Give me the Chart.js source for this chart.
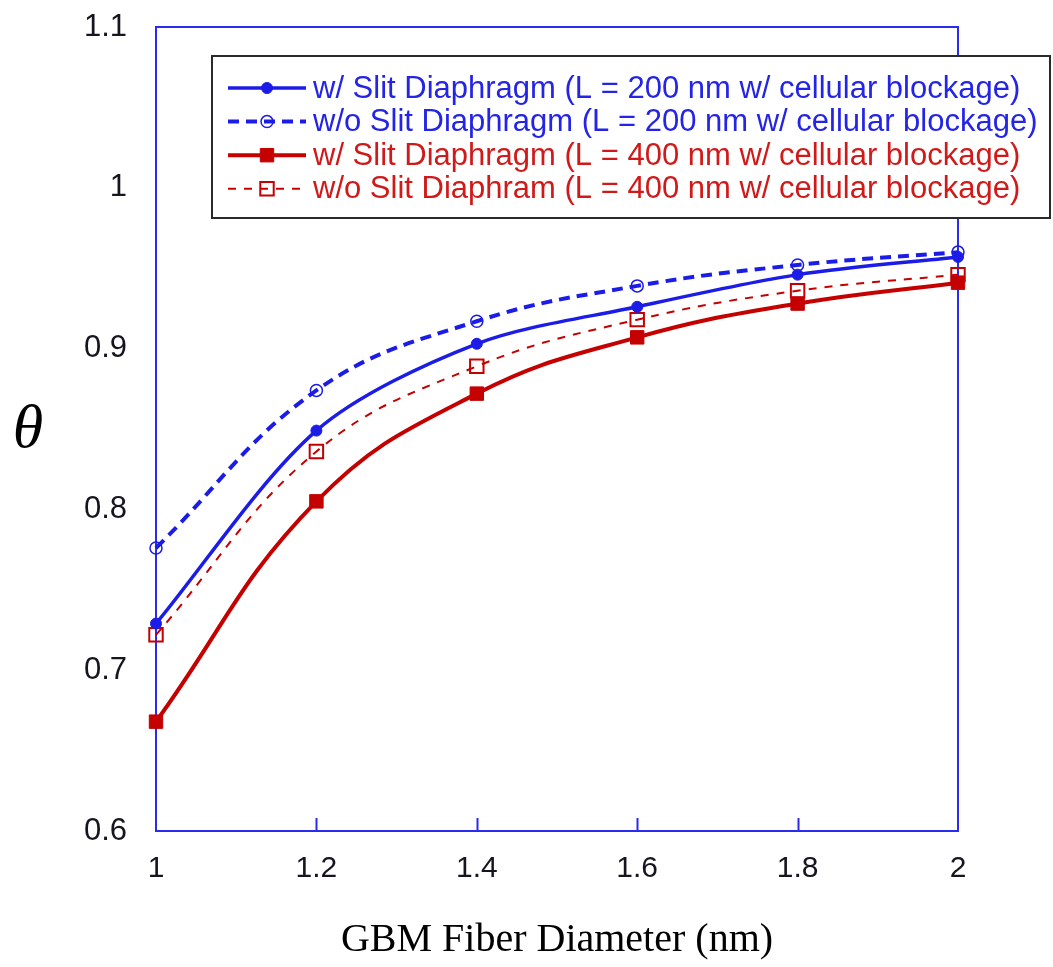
<!DOCTYPE html>
<html>
<head>
<meta charset="utf-8">
<title>GBM fiber diameter vs theta</title>
<script src="https://cdn.jsdelivr.net/npm/chart.js@4.4.1/dist/chart.umd.min.js"></script>
<style>
  html, body { margin: 0; padding: 0; background: #ffffff; }
  #wrap { width: 1053px; height: 967px; }
</style>
</head>
<body>
<div id="wrap"><canvas id="chart" width="1053" height="967"></canvas></div>
<script>
// ---- data ----
const fiberDiameter = [1, 1.2, 1.4, 1.6, 1.8, 2];
const slit200   = [0.729, 0.849, 0.903, 0.926, 0.946, 0.957];
const noSlit200 = [0.776, 0.874, 0.917, 0.939, 0.952, 0.960];
const slit400   = [0.668, 0.805, 0.872, 0.907, 0.928, 0.941];
const noSlit400 = [0.722, 0.836, 0.889, 0.918, 0.936, 0.946];

const seriesLabels = [
  'w/ Slit Diaphragm (L = 200 nm w/ cellular blockage)',
  'w/o Slit Diaphragm (L = 200 nm w/ cellular blockage)',
  'w/ Slit Diaphragm (L = 400 nm w/ cellular blockage)',
  'w/o Slit Diaphram (L = 400 nm w/ cellular blockage)'
];
const xTickLabels = ['1', '1.2', '1.4', '1.6', '1.8', '2'];
const yTickLabels = ['0.6', '0.7', '0.8', '0.9', '1', '1.1'];
const xTitle = 'GBM Fiber Diameter (nm)';
const yTitle = '\u03B8';

// ---- styling ----
const BLUE = '#1c1ce8';
const RED = '#c40000';
const BLUE_TEXT = '#2424e6';
const RED_TEXT = '#d01a1a';
const FRAME = '#2a2af0';
const TICK_FONT = '"Liberation Sans", Arial, sans-serif';

const toPoints = ys => fiberDiameter.map((x, i) => ({ x, y: ys[i] }));

const datasets = [
  {
    label: seriesLabels[0], data: toPoints(slit200), textColor: BLUE_TEXT, tension: 0.3,
    borderColor: BLUE, backgroundColor: BLUE, borderWidth: 3.5, borderDash: [],
    pointStyle: 'circle', pointRadius: 5.5, pointBorderWidth: 1, pointBackgroundColor: BLUE, pointBorderColor: BLUE
  },
  {
    label: seriesLabels[1], data: toPoints(noSlit200), textColor: BLUE_TEXT, tension: 0.4,
    borderColor: BLUE, backgroundColor: 'rgba(0,0,0,0)', borderWidth: 4, borderDash: [11, 7],
    pointStyle: 'circle', pointRadius: 6, pointBorderWidth: 1.5, pointBackgroundColor: 'rgba(0,0,0,0)', pointBorderColor: BLUE
  },
  {
    label: seriesLabels[2], data: toPoints(slit400), textColor: RED_TEXT, tension: 0.42,
    borderColor: RED, backgroundColor: RED, borderWidth: 4, borderDash: [],
    pointStyle: 'rect', pointRadius: 9.5, pointBorderWidth: 1, pointBackgroundColor: RED, pointBorderColor: RED
  },
  {
    label: seriesLabels[3], data: toPoints(noSlit400), textColor: RED_TEXT, tension: 0.4,
    borderColor: RED, backgroundColor: 'rgba(0,0,0,0)', borderWidth: 2, borderDash: [8, 8],
    pointStyle: 'rect', pointRadius: 9.5, pointBorderWidth: 2, pointBackgroundColor: 'rgba(0,0,0,0)', pointBorderColor: RED
  }
].map(d => Object.assign(d, { clip: false, fill: false }));

// Plot frame with inward tick marks along the bottom edge
const framePlugin = {
  id: 'frame',
  beforeDatasetsDraw(chart) {
    const { ctx, chartArea: a, scales: { x } } = chart;
    ctx.save();
    ctx.strokeStyle = FRAME;
    ctx.lineWidth = 2;
    ctx.strokeRect(a.left, a.top, a.right - a.left, a.bottom - a.top);
    ctx.beginPath();
    x.ticks.forEach(t => {
      if (t.value > x.min && t.value < x.max) {
        const px = Math.round(x.getPixelForValue(t.value)) + 0.5;
        ctx.moveTo(px, a.bottom);
        ctx.lineTo(px, a.bottom - 13);
      }
    });
    ctx.stroke();
    ctx.restore();
  }
};

// Upright theta as the vertical axis title
const yTitlePlugin = {
  id: 'yTitle',
  afterDraw(chart) {
    const { ctx, chartArea: a } = chart;
    ctx.save();
    ctx.fillStyle = '#000000';
    ctx.font = 'italic 62px "Liberation Serif", "DejaVu Serif", serif';
    ctx.textAlign = 'center';
    ctx.textBaseline = 'middle';
    ctx.fillText(yTitle, 28, (a.top + a.bottom) / 2 + 2);
    ctx.restore();
  }
};

// Boxed legend: line sample with marker, label text in series colour
const legendPlugin = {
  id: 'boxLegend',
  afterDraw(chart) {
    const { ctx } = chart;
    const box = { left: 212, top: 56, right: 1050, bottom: 218 };
    ctx.save();
    ctx.fillStyle = '#ffffff';
    ctx.fillRect(box.left, box.top, box.right - box.left, box.bottom - box.top);
    ctx.strokeStyle = '#2a2a2a';
    ctx.lineWidth = 2;
    ctx.strokeRect(box.left, box.top, box.right - box.left, box.bottom - box.top);

    const rowY0 = box.top + 32, rowStep = 33.6;
    const lineX0 = 228, lineX1 = 306, markX = 267, textX = 313;
    chart.data.datasets.forEach((ds, i) => {
      const y = rowY0 + i * rowStep;
      ctx.save();
      ctx.strokeStyle = ds.borderColor;
      ctx.lineWidth = ds.borderWidth;
      ctx.setLineDash(ds.borderDash || []);
      ctx.beginPath();
      ctx.moveTo(lineX0, y);
      ctx.lineTo(lineX1, y);
      ctx.stroke();
      ctx.setLineDash([]);
      ctx.fillStyle = ds.pointBackgroundColor;
      ctx.strokeStyle = ds.pointBorderColor;
      ctx.lineWidth = ds.pointBorderWidth;
      Chart.helpers.drawPoint(ctx, {
        pointStyle: ds.pointStyle, rotation: 0,
        radius: ds.pointRadius, borderWidth: ds.pointBorderWidth
      }, markX, y);
      ctx.restore();

      ctx.fillStyle = ds.textColor;
      ctx.font = '31px "Liberation Sans", Arial, sans-serif';
      ctx.textAlign = 'left';
      ctx.textBaseline = 'middle';
      ctx.fillText(ds.label, textX, y + 1);
    });
    ctx.restore();
  }
};

new Chart(document.getElementById('chart'), {
  type: 'line',
  data: { datasets },
  options: {
    responsive: false,
    animation: false,
    events: [],
    layout: { padding: { left: 0, top: 27, right: 95, bottom: 0 } },
    plugins: { legend: { display: false }, tooltip: { enabled: false }, title: { display: false } },
    scales: {
      x: {
        type: 'linear', min: 1, max: 2,
        grid: { display: false }, border: { display: false },
        afterBuildTicks: s => { s.ticks = xTickLabels.map(t => ({ value: parseFloat(t) })); },
        afterFit: s => { s.height = 136; s.paddingLeft = 0; s.paddingRight = 0; },
        ticks: {
          callback: (v, i) => xTickLabels[i],
          font: { family: TICK_FONT, size: 30 }, color: '#15151f', padding: 12, maxRotation: 0
        },
        title: {
          display: true, text: xTitle, color: '#000000',
          font: { family: '"Liberation Serif", "Times New Roman", serif', size: 40 },
          padding: { top: 0, bottom: 3 }
        }
      },
      y: {
        type: 'linear', min: 0.6, max: 1.1,
        grid: { display: false }, border: { display: false },
        afterBuildTicks: s => { s.ticks = yTickLabels.map(t => ({ value: parseFloat(t) })); },
        afterFit: s => { s.width = 156; s.paddingTop = 0; s.paddingBottom = 0; },
        ticks: {
          callback: (v, i) => yTickLabels[i],
          font: { family: TICK_FONT, size: 31 }, color: '#15151f', padding: 21
        }
      }
    }
  },
  plugins: [framePlugin, yTitlePlugin, legendPlugin]
});
</script>
</body>
</html>
